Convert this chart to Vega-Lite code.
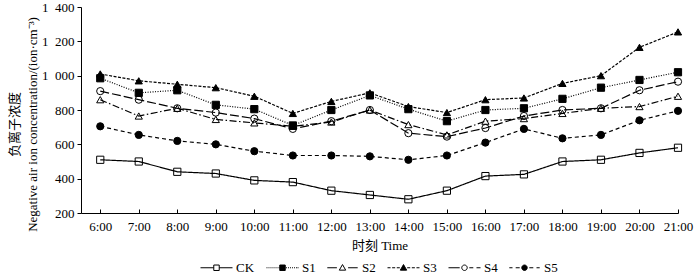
{
  "$schema": "https://vega.github.io/schema/vega-lite/v6.json",
  "width": 597,
  "height": 206,
  "autosize": {"type": "none"},
  "padding": {"left": 81, "top": 7, "right": 22, "bottom": 63},
  "background": "white",
  "config": {
    "view": {"stroke": null},
    "axis": {"domainColor": "black", "tickColor": "black", "labelColor": "black", "titleColor": "black", "labelFont": "Liberation Serif", "titleFont": "Liberation Serif, Noto Sans CJK SC", "labelFontSize": 13, "titleFontSize": 13, "titleFontWeight": "normal", "grid": false, "domainWidth": 1, "tickWidth": 1},
    "legend": {"orient": "none", "legendX": 119, "legendY": 244, "direction": "horizontal", "labelFont": "Liberation Serif", "labelFontSize": 13, "labelColor": "black", "labelOffset": 3, "columnPadding": 9, "symbolSize": 1024, "symbolStrokeWidth": 1}
  },
  "data": {"values": [
    {"h":6,"s":"CK","v":510},{"h":7,"s":"CK","v":500},{"h":8,"s":"CK","v":440},{"h":9,"s":"CK","v":430},{"h":10,"s":"CK","v":390},{"h":11,"s":"CK","v":380},{"h":12,"s":"CK","v":330},{"h":13,"s":"CK","v":305},{"h":14,"s":"CK","v":280},{"h":15,"s":"CK","v":330},{"h":16,"s":"CK","v":415},{"h":17,"s":"CK","v":425},{"h":18,"s":"CK","v":500},{"h":19,"s":"CK","v":510},{"h":20,"s":"CK","v":550},{"h":21,"s":"CK","v":580},
    {"h":6,"s":"S1","v":985},{"h":7,"s":"S1","v":900},{"h":8,"s":"S1","v":915},{"h":9,"s":"S1","v":830},{"h":10,"s":"S1","v":805},{"h":11,"s":"S1","v":710},{"h":12,"s":"S1","v":800},{"h":13,"s":"S1","v":885},{"h":14,"s":"S1","v":805},{"h":15,"s":"S1","v":735},{"h":16,"s":"S1","v":800},{"h":17,"s":"S1","v":810},{"h":18,"s":"S1","v":865},{"h":19,"s":"S1","v":930},{"h":20,"s":"S1","v":975},{"h":21,"s":"S1","v":1020},
    {"h":6,"s":"S2","v":860},{"h":7,"s":"S2","v":765},{"h":8,"s":"S2","v":810},{"h":9,"s":"S2","v":745},{"h":10,"s":"S2","v":725},{"h":11,"s":"S2","v":705},{"h":12,"s":"S2","v":730},{"h":13,"s":"S2","v":800},{"h":14,"s":"S2","v":715},{"h":15,"s":"S2","v":655},{"h":16,"s":"S2","v":735},{"h":17,"s":"S2","v":750},{"h":18,"s":"S2","v":780},{"h":19,"s":"S2","v":810},{"h":20,"s":"S2","v":820},{"h":21,"s":"S2","v":880},
    {"h":6,"s":"S3","v":1010},{"h":7,"s":"S3","v":970},{"h":8,"s":"S3","v":950},{"h":9,"s":"S3","v":930},{"h":10,"s":"S3","v":880},{"h":11,"s":"S3","v":780},{"h":12,"s":"S3","v":850},{"h":13,"s":"S3","v":900},{"h":14,"s":"S3","v":820},{"h":15,"s":"S3","v":785},{"h":16,"s":"S3","v":860},{"h":17,"s":"S3","v":870},{"h":18,"s":"S3","v":955},{"h":19,"s":"S3","v":1000},{"h":20,"s":"S3","v":1165},{"h":21,"s":"S3","v":1255},
    {"h":6,"s":"S4","v":910},{"h":7,"s":"S4","v":860},{"h":8,"s":"S4","v":810},{"h":9,"s":"S4","v":785},{"h":10,"s":"S4","v":750},{"h":11,"s":"S4","v":690},{"h":12,"s":"S4","v":735},{"h":13,"s":"S4","v":800},{"h":14,"s":"S4","v":665},{"h":15,"s":"S4","v":645},{"h":16,"s":"S4","v":695},{"h":17,"s":"S4","v":765},{"h":18,"s":"S4","v":800},{"h":19,"s":"S4","v":810},{"h":20,"s":"S4","v":915},{"h":21,"s":"S4","v":965},
    {"h":6,"s":"S5","v":705},{"h":7,"s":"S5","v":655},{"h":8,"s":"S5","v":620},{"h":9,"s":"S5","v":600},{"h":10,"s":"S5","v":560},{"h":11,"s":"S5","v":535},{"h":12,"s":"S5","v":535},{"h":13,"s":"S5","v":530},{"h":14,"s":"S5","v":510},{"h":15,"s":"S5","v":535},{"h":16,"s":"S5","v":610},{"h":17,"s":"S5","v":690},{"h":18,"s":"S5","v":635},{"h":19,"s":"S5","v":655},{"h":20,"s":"S5","v":740},{"h":21,"s":"S5","v":795}
  ]},
  "encoding": {
    "x": {"field": "h", "type": "quantitative", "scale": {"domain": [5.5, 21], "nice": false, "zero": false},
      "axis": {"values": [6,7,8,9,10,11,12,13,14,15,16,17,18,19,20,21], "labelExpr": "datum.value + ':00'", "tickSize": -4, "labelPadding": 11, "title": "时刻 Time", "titlePadding": 6, "labelFlush": false, "labelOverlap": false}},
    "y": {"field": "v", "type": "quantitative", "scale": {"domain": [200, 1400], "nice": false, "zero": false},
      "axis": {"values": [200,400,600,800,1000,1200,1400], "labelExpr": "replace(format(datum.value, ','), ',', '\u2002')", "tickSize": 4, "labelPadding": 3, "title": ["负离子浓度", "Negative air ion concentration/(ion·cm⁻³)"], "titleAngle": -90, "titleAlign": "center", "titleBaseline": "top", "titleX": -73, "titleY": 117, "titleLineHeight": 18, "labelFlush": false}}
  },
  "layer": [
    {"mark": {"type": "line", "color": "black", "strokeWidth": 1.2},
     "encoding": {"detail": {"field": "s"},
       "strokeDash": {"condition": [
         {"test": "datum.s === 'S1'", "value": [1, 1.5]},
         {"test": "datum.s === 'S2'", "value": [7, 2.5, 1.5, 2.5]},
         {"test": "datum.s === 'S3'", "value": [3, 1.5]},
         {"test": "datum.s === 'S4'", "value": [9, 3]},
         {"test": "datum.s === 'S5'", "value": [4, 3]}], "value": [1, 0]}}},
    {"mark": {"type": "point", "filled": true, "stroke": "black", "strokeWidth": 1, "size": 52, "opacity": 1},
     "encoding": {
       "shape": {"condition": [
         {"test": "datum.s === 'CK' || datum.s === 'S1'", "value": "square"},
         {"test": "datum.s === 'S2' || datum.s === 'S3'", "value": "triangle-up"}], "value": "circle"},
       "fill": {"condition": {"test": "datum.s === 'S1' || datum.s === 'S3' || datum.s === 'S5'", "value": "black"}, "value": "transparent"}
     }},
    {"transform": [{"filter": "false"}],
     "mark": {"type": "point", "filled": true, "stroke": "black", "strokeWidth": 1, "opacity": 1},
     "encoding": {
       "shape": {"field": "s", "type": "nominal", "title": null, "scale": {"domain": ["CK","S1","S2","S3","S4","S5"], "range": [
         "M-1,0H-0.17M0.17,0H1M-0.17,-0.17H0.17V0.17H-0.17Z",
         "M-1,0h0.06M-0.875,0h0.06M-0.75,0h0.06M-0.625,0h0.06M-0.5,0h0.06M-0.375,0h0.06M-0.25,0h0.06M0.22,0h0.06M0.345,0h0.06M0.47,0h0.06M0.595,0h0.06M0.72,0h0.06M0.845,0h0.06M0.94,0h0.06M-0.17,-0.17H0.17V0.17H-0.17Z",
         "M-0.95,0H-0.35M0.35,0H0.95M0,-0.2L0.2,0.15H-0.2Z",
         "M-1,0H-0.81M-0.71,0H-0.52M-0.42,0H-0.23M0.23,0H0.42M0.52,0H0.71M0.81,0H1M0,-0.2L0.2,0.15H-0.2Z",
         "M-1,0H-0.3M0.3,0H0.55M0.75,0H1M0.17,0A0.17,0.17,0,1,1,-0.17,0A0.17,0.17,0,1,1,0.17,0Z",
         "M-0.95,0H-0.75M-0.55,0H-0.3M0.3,0H0.55M0.75,0H0.95M0.17,0A0.17,0.17,0,1,1,-0.17,0A0.17,0.17,0,1,1,0.17,0Z"]},
         "legend": {"title": null}},
       "fill": {"field": "s", "type": "nominal", "title": null, "scale": {"domain": ["CK","S1","S2","S3","S4","S5"], "range": ["transparent","black","transparent","black","transparent","black"]}, "legend": {"title": null}}
     }}
  ]
}
